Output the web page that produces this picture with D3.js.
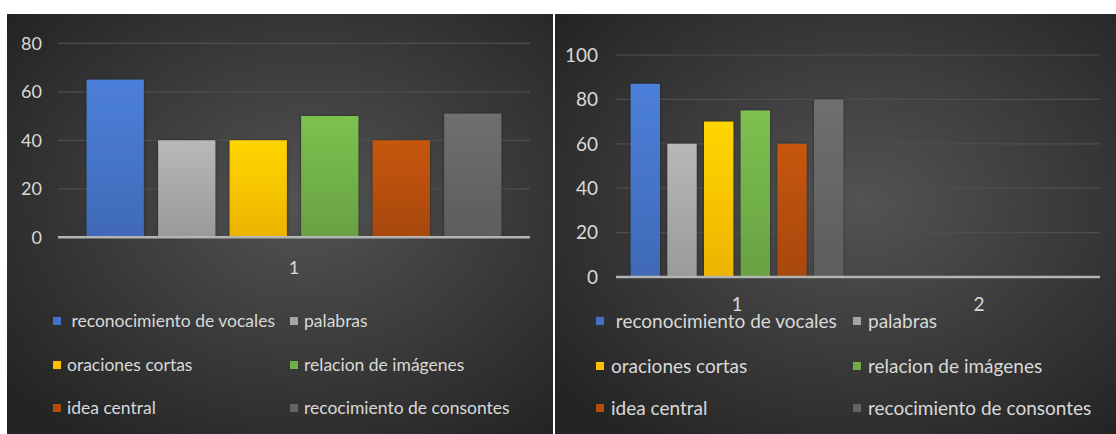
<!DOCTYPE html>
<html>
<head>
<meta charset="utf-8">
<script src="https://cdn.jsdelivr.net/npm/d3@7"></script>
<style>
  body { margin: 0; background: #fff; }
  svg { display: block; font-family: Lato, "Open Sans", sans-serif; }
</style>
</head>
<body>
<div id="chart"></div>
<script>
// Data
const seriesNames = [" reconocimiento de vocales", "palabras", "oraciones cortas", "relacion de imágenes", "idea central", "recocimiento de consontes"];
const seriesColors = ["#4472c4", "#a5a5a5", "#ffc000", "#70ad47", "#b34d0f", "#646464"];

const leftCategories = ["1"];
const leftValues = [65, 40, 40, 50, 40, 51];
const leftTicks = [0, 20, 40, 60, 80];

const rightCategories = ["1", "2"];
const rightValuesCat1 = [87, 60, 70, 75, 60, 80];
const rightValuesCat2 = [null, null, null, null, null, null];
const rightTicks = [0, 20, 40, 60, 80, 100];

// Setup
const W = 1116, H = 434;
const svg = d3.select("#chart").append("svg").attr("width", W).attr("height", H);
const defs = svg.append("defs");

const bg = defs.append("radialGradient").attr("id", "panel-bg")
  .attr("cx", "55%").attr("cy", "45%").attr("r", "70%");
bg.append("stop").attr("offset", "0%").attr("stop-color", "#535353");
bg.append("stop").attr("offset", "100%").attr("stop-color", "#242424");

seriesColors.forEach((c, i) => {
  const g = defs.append("linearGradient").attr("id", `bar-${i}`)
    .attr("x1", 0).attr("y1", 0).attr("x2", 0).attr("y2", 1);
  g.append("stop").attr("offset", "0%").attr("stop-color", d3.color(c).brighter(0.3));
  g.append("stop").attr("offset", "100%").attr("stop-color", d3.color(c).darker(0.2));
});

defs.append("filter").attr("id", "shadow").attr("x", "-20%").attr("y", "-20%").attr("width", "140%").attr("height", "140%")
  .append("feDropShadow").attr("dx", 0).attr("dy", 0).attr("stdDeviation", 1.5)
  .attr("flood-color", "#000").attr("flood-opacity", 0.45);

function drawPanel(cfg, categories, values, ticks) {
  const panel = svg.append("g");

  panel.append("rect")
    .attr("x", cfg.left).attr("y", cfg.top)
    .attr("width", cfg.right - cfg.left).attr("height", H - cfg.top)
    .attr("fill", "url(#panel-bg)");

  const y = d3.scaleLinear().domain([0, d3.max(ticks)]).range([cfg.base, cfg.yTop]);
  const x0 = d3.scaleBand().domain(categories).range(cfg.plot);
  const x1 = d3.scaleBand().domain(d3.range(seriesNames.length))
    .range([0, x0.bandwidth()]).paddingInner(0.2).paddingOuter(0.4);

  // gridlines
  panel.append("g")
    .selectAll("line").data(ticks.filter(t => t > 0)).join("line")
      .attr("x1", cfg.plot[0]).attr("x2", cfg.plot[1])
      .attr("y1", d => y(d)).attr("y2", d => y(d))
      .attr("stroke", "#4e4e4e").attr("stroke-width", 1.2);

  // y tick labels
  panel.append("g")
    .selectAll("text").data(ticks).join("text")
      .attr("x", cfg.tickX).attr("y", d => y(d)).attr("dy", "0.36em")
      .attr("text-anchor", "end")
      .attr("fill", "#d9d9d9").style("font-size", cfg.fontSize + "px")
      .text(d => d);

  // bars
  const barData = [];
  categories.forEach((c, ci) => values[ci].forEach((v, si) => {
    if (v != null) barData.push({ cat: c, s: si, v: v });
  }));

  panel.append("g")
    .selectAll("rect").data(barData).join("rect")
      .attr("x", d => x0(d.cat) + x1(d.s))
      .attr("width", x1.bandwidth())
      .attr("y", d => y(d.v))
      .attr("height", d => y(0) - y(d.v))
      .attr("fill", d => `url(#bar-${d.s})`)
      .attr("filter", "url(#shadow)");

  // baseline
  panel.append("line")
    .attr("x1", cfg.plot[0]).attr("x2", cfg.plot[1])
    .attr("y1", y(0)).attr("y2", y(0))
    .attr("stroke", "#b4b4b4").attr("stroke-width", 2.5);

  // category labels
  panel.append("g")
    .selectAll("text").data(categories).join("text")
      .attr("x", d => x0(d) + x0.bandwidth() / 2).attr("y", cfg.catY)
      .attr("text-anchor", "middle")
      .attr("fill", "#d9d9d9").style("font-size", cfg.fontSize + "px")
      .text(d => d);

  // legend, 2 columns x 3 rows
  const items = panel.append("g")
    .selectAll("g").data(seriesNames).join("g")
      .attr("transform", (d, i) => `translate(${cfg.legendCols[i % 2]},${cfg.legendRows[Math.floor(i / 2)]})`);
  items.append("rect")
    .attr("x", 0).attr("y", -4).attr("width", 8).attr("height", 8)
    .attr("fill", (d, i) => seriesColors[i]);
  items.append("text")
    .attr("x", cfg.legendGap).attr("dy", "0.35em")
    .attr("fill", "#d9d9d9").style("font-size", cfg.legendFont + "px")
    .style("white-space", "pre")
    .text(d => d);
}

drawPanel({
  left: 7, right: 553, top: 14,
  plot: [58, 530], yTop: 43.3, base: 237.3,
  tickX: 42, catY: 274, fontSize: 18,
  legendCols: [53, 290], legendRows: [321, 365, 408], legendGap: 14, legendFont: 17.5
}, leftCategories, [leftValues], leftTicks);

drawPanel({
  left: 555, right: W, top: 14,
  plot: [616, 1100], yTop: 55, base: 277,
  tickX: 598, catY: 311, fontSize: 19,
  legendCols: [596, 853], legendRows: [321, 366, 408], legendGap: 15, legendFont: 19
}, rightCategories, [rightValuesCat1, rightValuesCat2], rightTicks);
</script>
</body>
</html>
